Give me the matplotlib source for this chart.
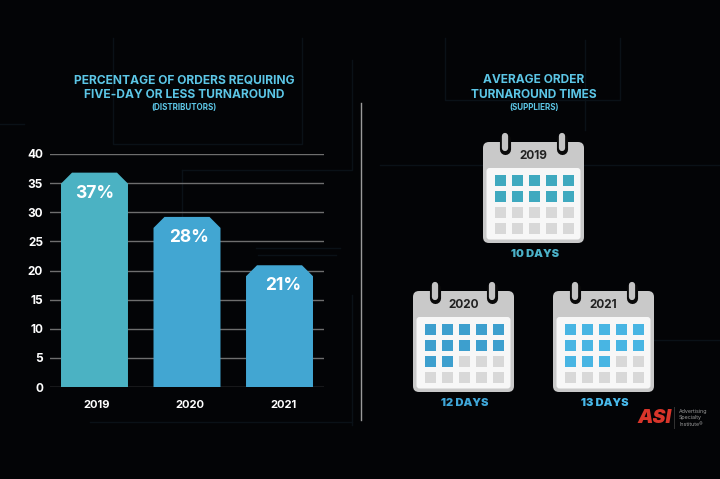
#!/usr/bin/env python
# -*- coding: utf-8 -*-
import matplotlib
matplotlib.use('Agg')
import matplotlib.pyplot as plt
from matplotlib.patches import FancyBboxPatch, Polygon, Rectangle

# chart values
years = ['2019', '2020', '2021']
bar_heights = [36.8, 29.2, 20.9]
bar_labels = ['37%', '28%', '21%']
y_ticks = [0, 5, 10, 15, 20, 25, 30, 35, 40]
bar_colors = ['#4bb2c3', '#42a6d2', '#42a6d2']

# calendars
cal_years = ['2019', '2020', '2021']
cal_days = [10, 12, 13]
cal_left = [483, 413, 553]
cal_top = [142, 291, 291]
cal_colors = ['#3fa9bf', '#3d9fce', '#48b5e3']
day_colors = ['#4bb2c8', '#3fa6d8', '#48b9ea']

# faint lines in the background
bg_lines = [
    ([113, 113, 302, 302], [38, 144, 144, 38]),
    ([182, 352, 352], [170, 170, 60]),
    ([182, 182], [170, 300]),
    ([0, 24], [124, 124]),
    ([352, 352], [295, 425]),
    ([90, 352], [422, 422]),
    ([445, 445, 620, 620], [38, 100, 100, 38]),
    ([380, 720], [165, 165]),
    ([600, 720], [340, 340]),
    ([585, 585], [40, 130]),
    ([256, 340], [248, 248]),
    ([258, 336], [255, 255]),
]

TITLE = '#5cc6e6'
FONT = 'Inter'
W, H = 720, 479

plt.rcParams['font.family'] = [FONT, 'DejaVu Sans']

fig = plt.figure(figsize=(W / 100, H / 100), dpi=100, facecolor='#030406')

# overlay in pixel coordinates
bg = fig.add_axes([0, 0, 1, 1], zorder=0)
bg.set_xlim(0, W)
bg.set_ylim(H, 0)
bg.axis('off')
for xs, ys in bg_lines:
    bg.plot(xs, ys, color='#0a1117', lw=1)

# bar chart
ax = fig.add_axes([50 / W, 1 - 387 / H, 274 / W, 233 / H], zorder=1)
ax.patch.set_alpha(0)
ax.set_xlim(-0.481, 2.481)
ax.set_ylim(0, 40)
for s in ax.spines.values():
    s.set_visible(False)
ax.set_yticks(y_ticks)
ax.set_yticklabels([str(v) for v in y_ticks], color='white', fontsize=8.5, fontweight='bold')
ax.set_xticks([0.02, 1.03, 2.04])
ax.set_xticklabels(years, color='white', fontsize=8, fontweight='bold')
ax.tick_params(axis='both', length=0)
ax.tick_params(axis='y', pad=5)
ax.tick_params(axis='x', pad=9)
ax.grid(axis='y', color='#6e6e6e', lw=1)
ax.set_axisbelow(True)

half = 0.362
cut_x = 11 / 92.5
cut_y = 11 / 5.825
for i, (h, lab, col) in enumerate(zip(bar_heights, bar_labels, bar_colors)):
    pts = [(i - half, 0), (i - half, h - cut_y), (i - half + cut_x, h),
           (i + half - cut_x, h), (i + half, h - cut_y), (i + half, 0)]
    ax.add_patch(Polygon(pts, closed=True, facecolor=col, edgecolor='none', zorder=2))
    ax.text(i * 1.02, h - 3.5, lab, color='white', fontsize=12.5, fontweight='bold',
            ha='center', va='center', zorder=3)

# text and calendars on top
top = fig.add_axes([0, 0, 1, 1], zorder=2)
top.set_xlim(0, W)
top.set_ylim(H, 0)
top.axis('off')

top.text(184, 80, 'PERCENTAGE OF ORDERS REQUIRING', color=TITLE, fontsize=8.65, fontweight='bold', ha='center', va='center')
top.text(184, 94.5, 'FIVE-DAY OR LESS TURNAROUND', color=TITLE, fontsize=8.65, fontweight='bold', ha='center', va='center')
top.text(184, 107.5, '(DISTRIBUTORS)', color=TITLE, fontsize=5.8, fontweight='bold', ha='center', va='center')
top.text(534, 80, 'AVERAGE ORDER', color=TITLE, fontsize=8.6, fontweight='bold', ha='center', va='center')
top.text(534, 94.5, 'TURNAROUND TIMES', color=TITLE, fontsize=8.6, fontweight='bold', ha='center', va='center')
top.text(534, 107.5, '(SUPPLIERS)', color=TITLE, fontsize=5.8, fontweight='bold', ha='center', va='center')

top.plot([360.5, 360.5], [103, 420], color='#9a9a9a', lw=1)

col_off = [17, 34, 51, 68, 85]
row_off = [38.7, 54.5, 70.5, 86]


def draw_calendar(left, ctop, year, days, col, day_col):
    w, h = 101, 101
    top.add_patch(FancyBboxPatch((left + 6, ctop + 6), w - 12, h - 12,
                                 boxstyle='round,pad=6,rounding_size=6',
                                 facecolor='#c9c9c9', edgecolor='none'))
    top.add_patch(FancyBboxPatch((left + 3.5, ctop + 26), w - 7, h - 29.5,
                                 boxstyle='round,pad=0,rounding_size=3',
                                 facecolor='#f7f7f7', edgecolor='none'))
    for rx in (left + 22, left + 79):
        top.plot([rx, rx], [ctop - 3, ctop + 7], color='#0a0a0a', lw=8,
                 solid_capstyle='round', zorder=3)
        top.plot([rx, rx], [ctop - 6, ctop + 6], color='#c4c4c4', lw=4.5,
                 solid_capstyle='round', zorder=4)
    top.text(left + 50.5, ctop + 14, year, color='#222222', fontsize=8.5, fontweight='bold',
             ha='center', va='center', zorder=5)
    n = 0
    for ro in row_off:
        for co in col_off:
            n += 1
            c = col if n <= days else '#d8d8d8'
            top.add_patch(Rectangle((left + co - 5.5, ctop + ro - 5.5), 11, 11, facecolor=c,
                                    edgecolor='none', zorder=5))
    top.text(left + 52, ctop + 112, '%d DAYS' % days, color=day_col, fontsize=8, fontweight='black',
             ha='center', va='center')


for i in range(3):
    draw_calendar(cal_left[i], cal_top[i], cal_years[i], cal_days[i], cal_colors[i], day_colors[i])

# logo
top.text(655, 418, 'ASI', color='#d8352a', fontsize=14, fontweight='black', style='italic',
         ha='center', va='center')
top.plot([674, 674], [407, 428], color='#333333', lw=0.7)
for yy, s in zip([412, 418, 424], ['Advertising', 'Specialty', 'Institute®']):
    top.text(679, yy, s, color='#9a9a9a', fontsize=3.8, ha='left', va='center')

fig.savefig('out.png', dpi=100, facecolor=fig.get_facecolor())
